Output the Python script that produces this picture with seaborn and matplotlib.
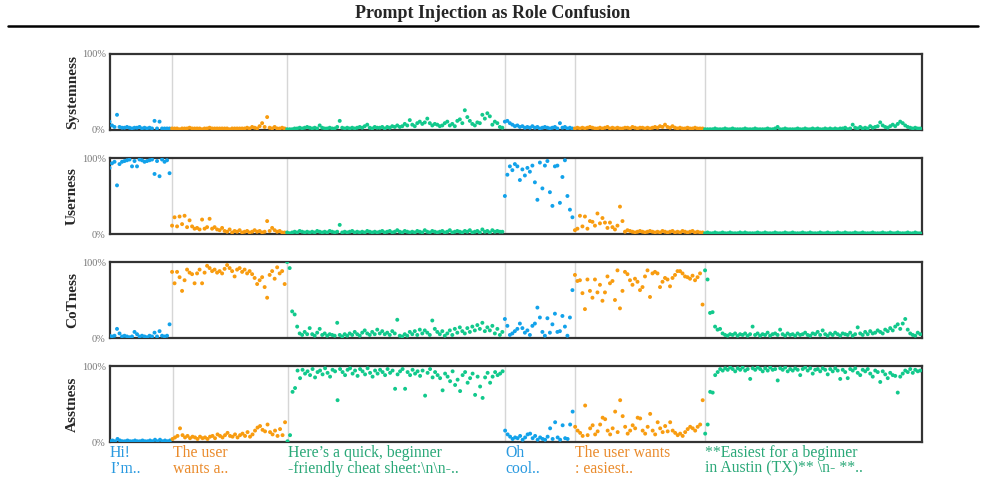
import pandas as pd
import seaborn as sns
import matplotlib.pyplot as plt
from matplotlib.lines import Line2D

# segments of the conversation (role of each token span) and their text snippets
seg_roles = ['User', 'CoT', 'Assistant', 'User', 'CoT', 'Assistant']
seg_texts = ['Hi!\nI\u2019m..',
             'The user\nwants a..',
             'Here\u2019s a quick, beginner\n-friendly cheat sheet:\\n\\n-..',
             'Oh\ncool..',
             'The user wants\n: easiest..',
             '**Easiest for a beginner\nin Austin (TX)** \\n- **..']

metric_names = ['Systemness', 'Userness', 'CoTness', 'Asstness']

# values in percent, one list per segment
systemness = [
    [11, 6, 4, 20, 4, 3, 3, 4, 3, 2, 3, 3, 4, 2, 3, 2, 3, 2, 12, 2, 11, 2, 2, 2, 2],
    [2, 2, 2, 1, 2, 2, 2, 3, 2, 2, 2, 2, 1, 2, 2, 3, 2, 2, 2, 2, 2, 2, 2, 1, 2, 2, 2, 2, 2, 2,
     3, 2, 4, 3, 2, 5, 9, 4, 17, 3, 2, 4, 2, 2, 3, 2],
    [1, 1, 1, 2, 2, 3, 2, 3, 4, 3, 2, 3, 2, 6, 3, 2, 2, 3, 2, 2, 4, 12, 3, 2, 3, 2, 3, 2, 3, 4,
     3, 5, 7, 3, 2, 4, 3, 3, 4, 2, 4, 3, 5, 4, 6, 4, 5, 8, 6, 13, 7, 5, 9, 11, 8, 10, 15, 9, 6, 8,
     7, 5, 6, 9, 11, 6, 8, 5, 12, 14, 9, 26, 17, 12, 8, 6, 10, 9, 20, 15, 22, 18, 7, 11, 9, 4, 3],
    [11, 12, 9, 7, 5, 6, 4, 5, 3, 4, 3, 5, 3, 4, 2, 3, 4, 3, 2, 3, 4, 2, 9, 3, 4, 2, 3, 2],
    [2, 3, 2, 3, 2, 3, 4, 3, 2, 2, 3, 2, 3, 4, 2, 3, 2, 3, 2, 2, 3, 3, 2, 4, 3, 2, 3, 3, 2, 3,
     2, 3, 4, 3, 5, 4, 7, 4, 3, 5, 3, 2, 3, 2, 2, 3, 2, 2, 3, 2, 2, 2],
    [1, 1, 1, 1, 2, 1, 1, 1, 2, 1, 1, 2, 1, 1, 1, 1, 2, 1, 1, 1, 2, 1, 1, 1, 1, 2, 1, 1, 2, 4,
     1, 1, 2, 1, 1, 1, 1, 2, 1, 1, 2, 1, 1, 2, 1, 2, 1, 1, 2, 1, 2, 1, 2, 1, 2, 2, 3, 1, 2, 7,
     3, 2, 4, 2, 3, 2, 5, 3, 4, 5, 10, 6, 4, 3, 5, 7, 5, 8, 11, 9, 6, 4, 3, 2, 3, 2, 2],
]

userness = [
    [87, 93, 95, 64, 92, 95, 96, 97, 98, 89, 96, 89, 98, 97, 95, 96, 97, 98, 79, 96, 76, 98, 95, 97, 80],
    [11, 22, 10, 23, 13, 24, 9, 18, 10, 7, 8, 6, 19, 7, 9, 20, 7, 9, 6, 5, 8, 4, 3, 6, 2, 4, 3, 5, 2, 3,
     4, 2, 3, 5, 3, 4, 2, 3, 17, 4, 8, 5, 3, 4, 2, 2],
    [2, 1, 2, 3, 2, 4, 3, 2, 3, 2, 3, 2, 4, 3, 2, 3, 2, 4, 3, 2, 3, 12, 2, 3, 2, 3, 4, 2, 3, 2,
     3, 2, 4, 3, 2, 3, 2, 3, 4, 2, 3, 4, 2, 3, 5, 3, 2, 4, 3, 2, 3, 2, 4, 3, 2, 5, 3, 2, 4, 3,
     2, 3, 4, 2, 3, 5, 2, 3, 4, 3, 2, 4, 3, 5, 2, 3, 4, 2, 6, 3, 4, 2, 5, 3, 4, 3, 3],
    [50, 78, 89, 84, 92, 89, 71, 85, 77, 87, 82, 90, 68, 45, 94, 60, 90, 96, 55, 37, 89, 90, 41, 75, 97, 50, 32, 22],
    [5, 7, 24, 10, 23, 7, 17, 16, 11, 27, 14, 21, 15, 8, 15, 9, 6, 11, 36, 17, 3, 5, 4, 3, 2, 3, 4, 3, 2, 3,
     4, 3, 2, 3, 2, 4, 3, 2, 3, 4, 2, 3, 2, 4, 3, 2, 3, 4, 2, 3, 2, 2],
    [1, 2, 1, 1, 2, 1, 1, 2, 1, 1, 2, 1, 1, 1, 2, 1, 2, 1, 1, 1, 1, 2, 1, 1, 2, 1, 1, 1, 2, 1,
     1, 1, 2, 1, 1, 2, 1, 1, 1, 2, 1, 1, 2, 1, 1, 1, 2, 1, 1, 2, 1, 1, 1, 2, 1, 1, 2, 1, 1, 1,
     2, 1, 1, 2, 1, 1, 1, 2, 1, 1, 1, 2, 1, 1, 2, 1, 1, 2, 1, 1, 1, 2, 1, 1, 2, 1, 1],
]

cotness = [
    [3, 2, 3, 12, 6, 2, 3, 2, 1, 2, 8, 5, 2, 3, 2, 1, 3, 2, 7, 2, 9, 3, 2, 3, 18],
    [87, 72, 87, 80, 62, 76, 90, 86, 84, 72, 85, 90, 72, 86, 95, 92, 88, 90, 86, 88, 85, 91, 96, 92, 88,
     81, 90, 92, 87, 90, 85, 88, 84, 79, 71, 76, 80, 67, 53, 83, 88, 78, 93, 85, 88, 71],
    [100, 92, 35, 31, 15, 6, 4, 8, 5, 13, 5, 3, 7, 12, 4, 6, 3, 5, 4, 3, 20, 4, 2, 5, 3, 6, 4, 8, 5, 3,
     7, 10, 6, 4, 8, 5, 11, 6, 9, 5, 7, 4, 9, 6, 24, 3, 2, 5, 3, 8, 5, 9, 4, 11, 6, 10, 7, 4, 23, 12,
     8, 5, 9, 3, 6, 10, 4, 12, 7, 14, 9, 6, 13, 8, 15, 10, 17, 12, 20, 9, 14, 10, 16, 6, 12, 4, 8],
    [25, 16, 4, 6, 9, 12, 19, 13, 7, 10, 4, 16, 19, 40, 27, 8, 3, 26, 7, 18, 32, 8, 9, 29, 15, 3, 27, 63],
    [83, 75, 76, 59, 38, 77, 62, 53, 77, 60, 70, 49, 60, 81, 72, 75, 50, 89, 39, 62, 87, 84, 76, 70, 78,
     74, 63, 67, 81, 89, 54, 85, 87, 85, 67, 74, 79, 77, 68, 79, 83, 88, 88, 85, 81, 80, 78, 82, 76, 80,
     85, 44],
    [89, 77, 33, 34, 15, 11, 12, 6, 4, 3, 5, 4, 6, 3, 5, 4, 6, 3, 5, 15, 4, 6, 3, 5, 4, 7, 3, 5, 6, 4,
     11, 5, 3, 6, 4, 5, 3, 6, 4, 5, 7, 4, 3, 6, 5, 8, 4, 10, 5, 3, 6, 4, 7, 5, 3, 6, 5, 4, 7, 3,
     5, 14, 6, 4, 8, 5, 9, 6, 7, 10, 8, 6, 11, 9, 13, 10, 15, 18, 12, 19, 25, 11, 6, 4, 3, 7, 5],
]

asstness = [
    [1, 2, 1, 4, 2, 1, 1, 2, 1, 1, 2, 1, 1, 2, 1, 1, 2, 1, 3, 1, 3, 1, 2, 1, 2],
    [4, 6, 8, 18, 9, 6, 8, 5, 7, 6, 4, 7, 5, 6, 4, 7, 8, 5, 10, 8, 6, 9, 12, 8, 7, 10, 6, 9, 11, 8,
     13, 7, 10, 15, 19, 21, 16, 14, 23, 13, 10, 15, 8, 17, 9, 26],
    [1, 9, 66, 71, 94, 84, 95, 90, 93, 88, 96, 85, 92, 94, 89, 97, 91, 86, 95, 93, 55, 96, 92, 88, 95,
     97, 90, 94, 87, 96, 93, 89, 97, 91, 86, 94, 90, 95, 92, 88, 96, 91, 94, 70, 89, 93, 96, 70, 92, 88,
     95, 90, 93, 87, 94, 61, 91, 96, 85, 92, 88, 84, 68, 90, 86, 80, 93, 75, 82, 67, 88, 92, 78, 84, 90,
     62, 86, 73, 58, 85, 91, 78, 86, 92, 88, 90, 93],
    [15, 10, 7, 4, 6, 5, 8, 3, 6, 10, 11, 5, 8, 3, 6, 4, 3, 7, 18, 4, 26, 6, 3, 22, 5, 4, 23, 40],
    [20, 15, 12, 8, 48, 9, 18, 22, 10, 14, 23, 32, 30, 15, 10, 18, 40, 13, 55, 34, 20, 11, 15, 22, 18,
     32, 31, 15, 11, 20, 37, 15, 10, 26, 18, 13, 21, 14, 26, 15, 12, 9, 11, 8, 13, 17, 20, 18, 15, 20,
     23, 55],
    [11, 23, 66, 65, 88, 92, 96, 94, 97, 95, 98, 96, 93, 97, 95, 98, 94, 96, 83, 97, 95, 98, 96, 93, 97,
     94, 98, 95, 96, 81, 97, 95, 98, 93, 96, 94, 97, 95, 88, 96, 98, 94, 97, 90, 95, 96, 93, 97, 95, 89,
     96, 93, 97, 94, 83, 95, 92, 84, 96, 94, 97, 91, 88, 95, 93, 96, 90, 86, 94, 92, 79, 93, 89, 84, 91,
     88, 87, 65, 86, 90, 94, 92, 96, 91, 95, 93, 94],
]

point_colors = {'User': '#12a2ea', 'CoT': '#f89c10', 'Assistant': '#12c98c'}
text_colors = {'User': '#2a9ae0', 'CoT': '#ea8b2c', 'Assistant': '#2aa878'}

# long table: one row per (metric, token)
rows = []
for name, segs in zip(metric_names, [systemness, userness, cotness, asstness]):
    tok = 0
    for si, vals in enumerate(segs):
        assert len(vals) == len(systemness[si]), (name, si, len(vals))
        for v in vals:
            rows.append({'metric': name, 'token': tok, 'value': v, 'role': seg_roles[si]})
            tok += 1
df = pd.DataFrame(rows)

seg_starts = [0]
for vals in systemness[:-1]:
    seg_starts.append(seg_starts[-1] + len(vals))
n_tok = sum(len(v) for v in systemness)

sns.set_style('white')
plt.rcParams['font.family'] = ['Liberation Serif', 'DejaVu Serif']

fig = plt.figure(figsize=(9.85, 4.82), dpi=100)

fig.text(0.5, 1 - 14 / 482, 'Prompt Injection as Role Confusion',
         ha='center', va='center', fontsize=13, fontweight='bold')
fig.add_artist(Line2D([8 / 985, 978 / 985], [1 - 26 / 482] * 2, color='black', lw=1.8))

bottoms = [1 - 130 / 482, 1 - 234 / 482, 1 - 338 / 482, 1 - 442 / 482]
for i, name in enumerate(metric_names):
    ax = fig.add_axes([110 / 985, bottoms[i], 812 / 985, 76 / 482])
    for s in seg_starts[1:]:
        ax.axvline(s, color='#d6d6d6', lw=1, zorder=0)
    sns.scatterplot(data=df[df['metric'] == name], x='token', y='value', hue='role',
                    palette=point_colors, s=8, linewidth=0, legend=False, ax=ax, zorder=3)
    ax.set_xlim(0.2, n_tok - 0.3)
    ax.set_ylim(0, 100)
    ax.set_yticks([0, 100])
    ax.set_yticklabels(['0%', '100%'], color='#777777', fontsize=7.5)
    ax.tick_params(axis='y', length=2.5, width=1, color='#333333', pad=0.5)
    ax.set_ylabel(name, fontsize=11, fontweight='bold', labelpad=2)
    ax.set_xlabel('')
    for sp in ax.spines.values():
        sp.set_color('#333333')
        sp.set_linewidth(1.6)
    if i == len(metric_names) - 1:
        ax.set_xticks(seg_starts)
        ax.set_xticklabels(seg_texts, fontsize=11.3, ha='left', va='top', linespacing=0.95)
        ax.tick_params(axis='x', length=3.5, width=1, color='#333333', pad=-1)
        for lab, role in zip(ax.get_xticklabels(), seg_roles):
            lab.set_color(text_colors[role])
    else:
        ax.set_xticks([])

fig.savefig('out.png', dpi=100)
